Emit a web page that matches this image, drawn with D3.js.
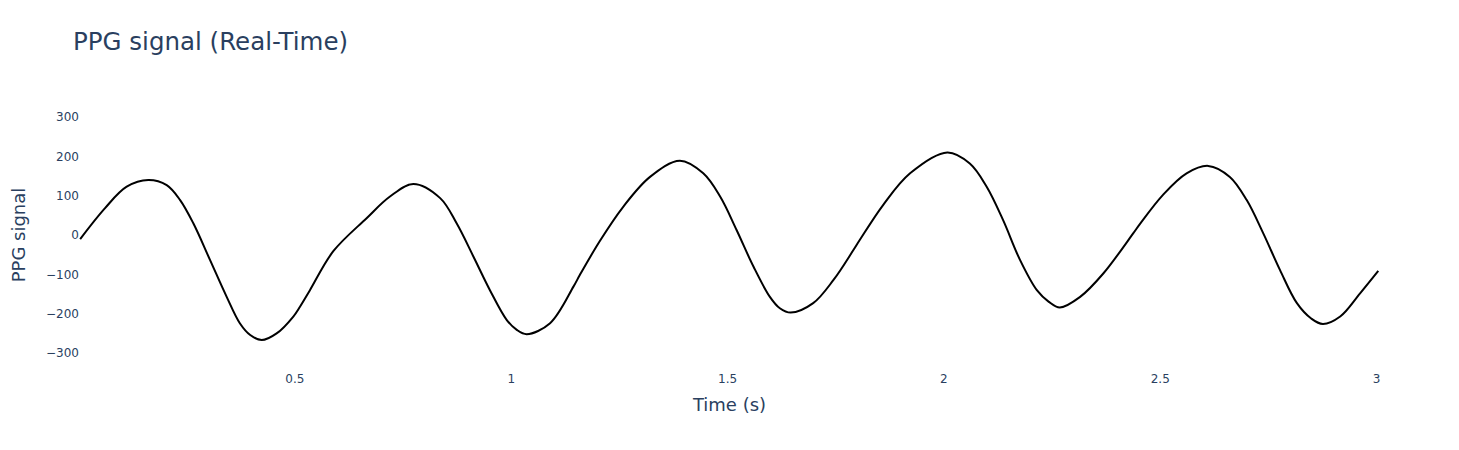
<!DOCTYPE html>
<html>
<head>
<meta charset="utf-8">
<script src="https://cdn.jsdelivr.net/npm/d3@7"></script>
<style>
  html, body { margin: 0; padding: 0; background: #fff; }
  svg { display: block; }
</style>
</head>
<body>
<svg id="chart" width="1459" height="450"></svg>
<script>
// ---- data ----
const time = [0.005,0.062,0.1125,0.1625,0.205,0.236,0.2665,0.305,0.3436,0.374,0.398,0.4245,0.459,0.4976,0.513,0.536,0.590,0.667,0.721,0.775,0.837,0.875,0.914,0.952,0.991,1.014,1.037,1.091,1.145,1.160,1.206,1.260,1.322,1.391,1.445,1.484,1.522,1.561,1.599,1.622,1.647,1.699,1.746,1.792,1.807,1.861,1.923,2.009,2.061,2.100,2.138,2.177,2.216,2.243,2.269,2.316,2.370,2.439,2.454,2.508,2.562,2.612,2.662,2.701,2.739,2.778,2.817,2.850,2.877,2.917,2.963,3.005];
const ppg  = [-11,67,122,139,126,88,29,-64,-158,-225,-255,-268,-251,-208,-183,-141,-42,42,97,129,93,29,-56,-141,-217,-242,-253,-225,-132,-102,-16,71,147,188,156,97,12,-81,-158,-187,-198,-174,-115,-39,-13,76,156,209,181,122,37,-64,-141,-170,-185,-158,-98,4,27,102,156,175,147,88,4,-90,-174,-213,-227,-208,-149,-92];
const xTicks = [0.5, 1, 1.5, 2, 2.5, 3];
const xTickLabels = ["0.5", "1", "1.5", "2", "2.5", "3"];
const yTicks = [-300, -200, -100, 0, 100, 200, 300];
const yTickLabels = ["\u2212300", "\u2212200", "\u2212100", "0", "100", "200", "300"];
const titleText = "PPG signal (Real-Time)";
const xTitle = "Time (s)";
const yTitle = "PPG signal";

// ---- layout ----
const W = 1459, H = 450;
const margin = { top: 100, right: 80, bottom: 80, left: 80 };
const font = '"DejaVu Sans", Verdana, sans-serif';
const textColor = "#2a3f5f";

const svg = d3.select("#chart");
svg.append("rect").attr("width", W).attr("height", H).attr("fill", "#fff");

const x = d3.scaleLinear().domain([0.0046, 3.0067]).range([margin.left, W - margin.right]);
const y = d3.scaleLinear().domain([-344, 342.5]).range([H - margin.bottom, margin.top]);

// x axis
const xAxis = d3.axisBottom(x).tickValues(xTicks).tickFormat((d, i) => xTickLabels[i]).tickSize(0).tickPadding(0);
const gx = svg.append("g").attr("transform", `translate(0,${H - margin.bottom})`).call(xAxis);
gx.select(".domain").remove();
gx.selectAll("text").attr("font-family", font).attr("font-size", 12).attr("fill", textColor)
  .attr("dy", null).attr("y", 13);

// y axis
const yAxis = d3.axisLeft(y).tickValues(yTicks).tickFormat((d, i) => yTickLabels[i]).tickSize(0).tickPadding(0);
const gy = svg.append("g").attr("transform", `translate(${margin.left - 1},0)`).call(yAxis);
gy.select(".domain").remove();
gy.selectAll("text").attr("font-family", font).attr("font-size", 12).attr("fill", textColor)
  .attr("x", 0).attr("dy", "0.35em");

// line
const data = time.map((t, i) => ({ t, v: ppg[i] }));
const line = d3.line().x(d => x(d.t)).y(d => y(d.v)).curve(d3.curveCatmullRom.alpha(0.5));
svg.append("path").datum(data).attr("d", line)
  .attr("fill", "none").attr("stroke", "#000").attr("stroke-width", 2).attr("stroke-linejoin", "round");

// title
svg.append("text").attr("x", 73).attr("y", 50).text(titleText)
  .attr("font-family", font).attr("font-size", 24.5).attr("fill", textColor);

// axis titles
svg.append("text").attr("x", (margin.left + W - margin.right) / 2).attr("y", 411)
  .attr("text-anchor", "middle").text(xTitle)
  .attr("font-family", font).attr("font-size", 18).attr("fill", textColor);
svg.append("text").attr("transform", `translate(25,${(margin.top + H - margin.bottom) / 2}) rotate(-90)`)
  .attr("text-anchor", "middle").text(yTitle)
  .attr("font-family", font).attr("font-size", 18).attr("fill", textColor);
</script>
</body>
</html>
